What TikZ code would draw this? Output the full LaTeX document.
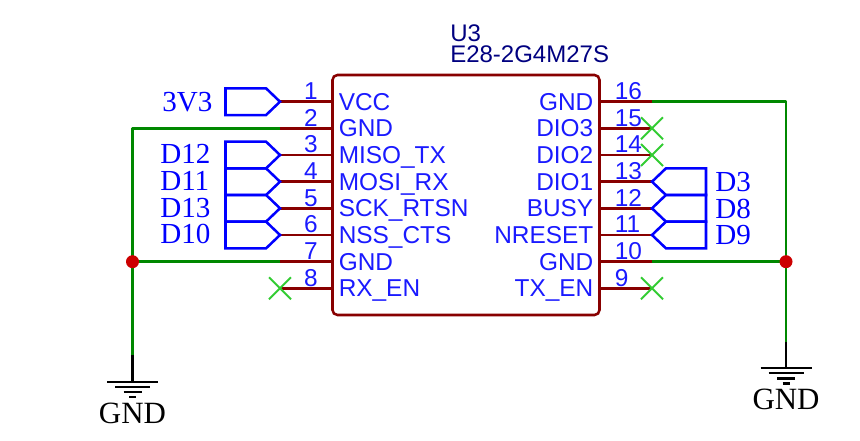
\documentclass[tikz,border=0pt]{standalone}
\usepackage{fontspec}
\setmainfont{Liberation Serif}
\setsansfont{Liberation Sans}
\definecolor{pinred}{HTML}{880000}
\definecolor{wiregreen}{HTML}{008800}
\definecolor{flagblue}{HTML}{0000FF}
\definecolor{textblue}{HTML}{1A1AFF}
\definecolor{titleblue}{HTML}{000080}
\definecolor{crossgreen}{HTML}{33CC33}
\definecolor{junctionred}{HTML}{CC0000}
\newcommand{\pinfont}{\fontsize{18.3}{20}\selectfont\sffamily}
\newcommand{\flagfont}{\fontsize{21.8}{24}\selectfont\rmfamily}
\newcommand{\gndfont}{\fontsize{23.2}{26}\selectfont\rmfamily}
\tikzset{
  x=0.75pt,y=-0.75pt,
  pinline/.style={draw=pinred,line width=1.9pt},
  wireline/.style={draw=wiregreen,line width=1.9pt,line join=round},
  flagline/.style={draw=flagblue,line width=1.9pt,line join=miter},
  gndline/.style={draw=black,line width=1.7pt},
  crossline/.style={draw=crossgreen,line width=1.5pt},
  symbolbox/.style={draw=pinred,line width=1.9pt,rounded corners=3.75pt,rectangle,inner sep=0pt,
    minimum width=200.25pt,minimum height=180pt},
  pinlabelL/.style={inner sep=0pt,anchor=base west,text=textblue,font=\pinfont},
  pinlabelR/.style={inner sep=0pt,anchor=base east,text=textblue,font=\pinfont},
  pinnumC/.style={inner sep=0pt,anchor=base,text=textblue,font=\pinfont},
  pinnumR/.style={inner sep=0pt,anchor=base west,text=textblue,font=\pinfont},
  flagtext/.style={inner sep=0pt,anchor=base west,text=flagblue,font=\flagfont},
  gndtext/.style={inner sep=0pt,anchor=base,text=black,font=\gndfont},
  titletext/.style={inner sep=0pt,anchor=base west,text=titleblue,font=\fontsize{18}{20}\selectfont\sffamily},
  junction/.style={circle,fill=junctionred,draw=none,minimum size=9.75pt,inner sep=0pt},
}
\newcommand{\flagL}[1]{\draw[flagline] (#1) -- ++(-14,-13.4) -- ++(-40.5,0) -- ++(0,26.8) -- ++(40.5,0) -- cycle;}
\newcommand{\flagR}[1]{\draw[flagline] (#1) -- ++(14,-13.4) -- ++(40,0) -- ++(0,26.8) -- ++(-40,0) -- cycle;}
\newcommand{\crossat}[1]{\draw[crossline] ($(#1)+(-11,-11)$) -- ($(#1)+(11,11)$) ($(#1)+(-11,11)$) -- ($(#1)+(11,-11)$);}
\newcommand{\gndsym}[1]{\draw[gndline] ($(#1)+(-25.5,0)$) -- ($(#1)+(25.5,0)$)
  ($(#1)+(-17.5,5.2)$) -- ($(#1)+(17.5,5.2)$)
  ($(#1)+(-9,10.4)$) -- ($(#1)+(9,10.4)$)
  ($(#1)+(-3.5,15.6)$) -- ($(#1)+(3.5,15.6)$);}
\usetikzlibrary{calc}
\begin{document}
\begin{tikzpicture}
\useasboundingbox (0,0) rectangle (860,441);
% pin coordinates
\foreach \n/\yy in {1/101.7,2/128.3,3/155,4/181.7,5/208.3,6/235,7/261.7,8/288.3}{
  \coordinate (a\n) at (332.5,\yy);
  \coordinate (b\n) at (280,\yy);
}
\foreach \n/\yy in {16/101.7,15/128.3,14/155,13/181.7,12/208.3,11/235,10/261.7,9/288.3}{
  \coordinate (a\n) at (599.5,\yy);
  \coordinate (b\n) at (652,\yy);
}
\coordinate (leftjoin) at (132.5,261.7);
\coordinate (lefttop) at (132.5,128.3);
\coordinate (leftend) at (132.5,355);
\coordinate (leftbar) at (132.5,381.7);
\coordinate (rightjoin) at (786,261.7);
\coordinate (righttop) at (786,101.7);
\coordinate (rightend) at (786,342);
\coordinate (rightbar) at (786,368);
% wires
\draw[wireline] (b2) -- (lefttop) -- (leftend);
\draw[wireline] (b7) -- (leftjoin);
\draw[wireline] (b16) -- (righttop) -- (rightend);
\draw[wireline] (b10) -- (rightjoin);
% pins
\foreach \n in {1,...,16}{ \draw[pinline] (a\n) -- (b\n); }
% symbol
\node[symbolbox] (U3) at (466,195) {};
\node[titletext] (ref) at (450,42) {U3};
\node[titletext] (val) at (450,63) {E28-2G4M27S};
% labels left
\foreach \n/\t in {1/VCC,2/GND,3/MISO\_TX,4/MOSI\_RX,5/SCK\_RTSN,6/NSS\_CTS,7/GND,8/RX\_EN}{
  \node[pinlabelL] (lab\n) at ($(a\n)+(6,8.7)$) {\t};
  \node[pinnumC] (num\n) at ($(a\n)+(-21.5,-2)$) {\n};
}
\foreach \n/\t in {16/GND,15/DIO3,14/DIO2,13/DIO1,12/BUSY,11/NRESET,10/GND,9/TX\_EN}{
  \node[pinlabelR] (lab\n) at ($(a\n)+(-6,8.7)$) {\t};
  \node[pinnumR] (num\n) at ($(a\n)+(15,-2)$) {\n};
}
% flags
\flagL{b1}\flagL{b3}\flagL{b4}\flagL{b5}\flagL{b6}
\flagR{b13}\flagR{b12}\flagR{b11}
\node[flagtext] (f3v3) at ($(b1)+(-118,10)$) {3V3};
\node[flagtext] (fd12) at ($(b3)+(-120,9)$) {D12};
\node[flagtext] (fd11) at ($(b4)+(-120,9)$) {D11};
\node[flagtext] (fd13) at ($(b5)+(-120,9)$) {D13};
\node[flagtext] (fd10) at ($(b6)+(-120,9)$) {D10};
\node[flagtext] (fd3) at ($(b13)+(63,10)$) {D3};
\node[flagtext] (fd8) at ($(b12)+(63,10)$) {D8};
\node[flagtext] (fd9) at ($(b11)+(63,10)$) {D9};
% no connects
\crossat{b15}\crossat{b14}\crossat{b9}\crossat{b8}
% ground
\draw[gndline] (leftend) -- (leftbar);
\gndsym{leftbar}
\node[gndtext] (g1) at (132.5,423) {GND};
\draw[gndline] (rightend) -- (rightbar);
\gndsym{rightbar}
\node[gndtext] (g2) at (786,410) {GND};
% junctions
\node[junction] (j1) at (leftjoin) {};
\node[junction] (j2) at (rightjoin) {};
\end{tikzpicture}
\end{document}
